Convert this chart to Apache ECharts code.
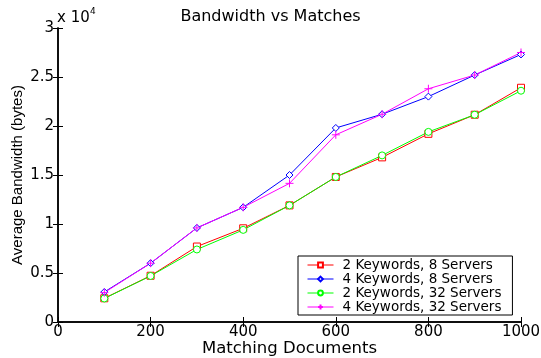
<!DOCTYPE html>
<html><head><meta charset="utf-8">
<script src="https://cdn.jsdelivr.net/npm/echarts@6/dist/echarts.min.js"></script>
<style>html,body{margin:0;padding:0;background:#fff}#c{width:541px;height:358px}</style>
</head><body><div id="c"></div>
<script>
const docs = [100,200,300,400,500,600,700,800,900,1000];
const k2s8  = [2420,4720,7700,9560,11900,14800,16800,19200,21150,23900];
const k4s8  = [3060,6000,9600,11700,15000,19800,21200,23000,25200,27300];
const k2s32 = [2400,4700,7400,9400,11900,14800,17000,19400,21150,23600];
const k4s32 = [3000,6000,9600,11700,14150,19100,21200,23800,25200,27500];
const seriesNames = ['2 Keywords, 8 Servers','4 Keywords, 8 Servers','2 Keywords, 32 Servers','4 Keywords, 32 Servers'];
const xTicks = [0,200,400,600,800,1000];
const yTicks = [0,5000,10000,15000,20000,25000,30000];

const font = 'DejaVu Sans, sans-serif';
const colors = ['#ff0000','#0000ff','#00ff00','#ff00ff'];
const symbols = ['rect','diamond','circle','path://M0,5L10,5M5,0L5,10'];
const sizes = [7,7,7,8];
const all = [k2s8,k4s8,k2s32,k4s32];

const chart = echarts.init(document.getElementById('c'), null, {renderer:'canvas'});
const axisLine = {show:true, lineStyle:{color:'#000', width:1.5}};
const tick = {show:true, inside:true, length:5, lineStyle:{color:'#000'}};
chart.setOption({
  animation:false,
  backgroundColor:'#fff',
  title:{text:'Bandwidth vs Matches', left:'center', top:4,
    textStyle:{fontFamily:font, fontSize:16, fontWeight:'normal', color:'#000'}},
  graphic:[
    {type:'text', left:57, top:11, style:{text:'x 10', font:'15px DejaVu Sans', fill:'#000'}},
    {type:'text', left:90, top:7, style:{text:'4', font:'9px DejaVu Sans', fill:'#000'}}
  ],
  legend:{orient:'vertical', left:298, top:256, itemGap:0, padding:[2,11,1,9],
    backgroundColor:'#fff', borderColor:'#000', borderWidth:1, itemWidth:26, itemHeight:6,
    lineStyle:{width:1},
    textStyle:{fontFamily:font, fontSize:13.5, color:'#000', lineHeight:13.5, padding:[0,0,0,4]},
    data:seriesNames},
  grid:{left:58, right:20, top:28, bottom:36, outerBoundsMode:'none', containLabel:false},
  xAxis:[{type:'value', min:0, max:1000, interval:200,
    axisLine:axisLine, axisTick:tick, splitLine:{show:false},
    axisLabel:{fontFamily:font, fontSize:15, color:'#000', margin:3,
      formatter:v=>xTicks.includes(v)?String(v):''},
    name:'Matching Documents', nameLocation:'middle', nameGap:18, nameMoveOverlap:false,
    nameTextStyle:{fontFamily:font, fontSize:16.5, color:'#000'}},
    {type:'value', position:'top', min:0, max:1000, interval:200, axisLine:axisLine, axisTick:tick, axisLabel:{show:false}, splitLine:{show:false}}],
  yAxis:[{type:'value', min:0, max:30000, interval:5000,
    axisLine:axisLine, axisTick:tick, splitLine:{show:false},
    axisLabel:{fontFamily:font, fontSize:15, color:'#000', margin:4,
      formatter:v=>yTicks.includes(v)?String(v/10000):''},
    name:'Average Bandwidth (bytes)', nameLocation:'middle', nameGap:33, nameMoveOverlap:false,
    nameTextStyle:{fontFamily:'Liberation Sans, Arial, sans-serif', fontSize:15, color:'#000'}},
    {type:'value', position:'right', min:0, max:30000, interval:5000, axisLine:axisLine, axisTick:tick, axisLabel:{show:false}, splitLine:{show:false}}],
  series: all.map((d,i)=>({
    name:seriesNames[i], type:'line', xAxisIndex:0, yAxisIndex:0,
    data: docs.map((x,j)=>[x,d[j]]),
    symbol:symbols[i], symbolSize:sizes[i], showSymbol:true,
    lineStyle:{color:colors[i], width:1},
    itemStyle:{color:(i===3?colors[i]:'#ffffff'), borderColor:colors[i], borderWidth:1},
    emphasis:{disabled:true}
  }))
});
</script></body></html>
